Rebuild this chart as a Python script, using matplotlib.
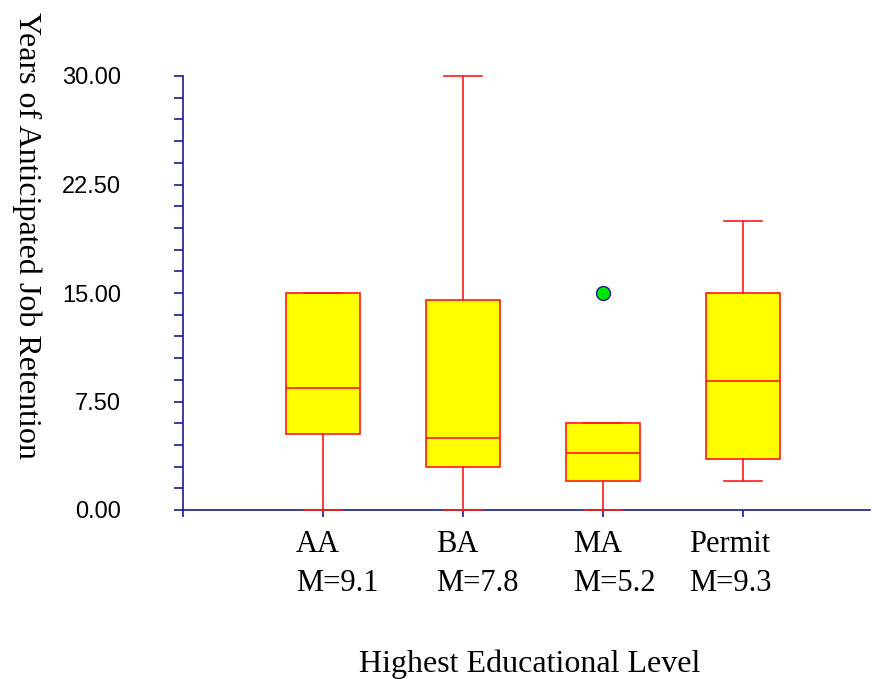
import matplotlib
matplotlib.use("Agg")
import matplotlib.pyplot as plt
from matplotlib.ticker import MultipleLocator, FormatStrFormatter
from matplotlib.transforms import blended_transform_factory, offset_copy

# Box-plot summaries per education level
categories = ["AA", "BA", "MA", "Permit"]
means = [9.1, 7.8, 5.2, 9.3]
whisker_low = [0.0, 0.0, 0.0, 2.0]
q1 = [5.25, 3.0, 2.0, 3.5]
medians = [8.4, 5.0, 3.95, 8.9]
q3 = [15.0, 14.5, 6.0, 15.0]
whisker_high = [15.0, 30.0, 6.0, 20.0]
outliers = [[], [], [15.0], []]

navy = "#1a1a8c"
red = "#ff1a1a"
W, H = 872, 679

fig = plt.figure(figsize=(W / 100, H / 100), dpi=100)
ax = fig.add_axes([183 / W, 169 / H, 687 / W, 434 / H])

stats = []
for i, c in enumerate(categories):
    stats.append(dict(label=c, whislo=whisker_low[i], q1=q1[i], med=medians[i],
                      q3=q3[i], whishi=whisker_high[i], fliers=outliers[i]))

positions = list(range(1, len(categories) + 1))
parts = ax.bxp(stats, positions=positions, widths=0.53, patch_artist=True,
               showfliers=True, zorder=3,
               boxprops=dict(facecolor="yellow", edgecolor=red, linewidth=1.2),
               medianprops=dict(color=red, linewidth=1.2),
               whiskerprops=dict(color=red, linewidth=1.2),
               capprops=dict(color=red, linewidth=1.2),
               capwidths=0.27,
               flierprops=dict(marker="o", markerfacecolor="#00e600",
                               markeredgecolor=navy, markersize=10,
                               markeredgewidth=1.0))
for group in parts.values():
    for artist in group:
        artist.set_clip_on(False)

ax.set_xlim(0, 4.91)
ax.set_ylim(0, 30)

for side in ("top", "right"):
    ax.spines[side].set_visible(False)
for side in ("left", "bottom"):
    ax.spines[side].set_color(navy)
    ax.spines[side].set_linewidth(1.2)
    ax.spines[side].set_zorder(2)

# y axis: majors every 7.5, minors every 1.5
ax.yaxis.set_major_locator(MultipleLocator(7.5))
ax.yaxis.set_minor_locator(MultipleLocator(1.5))
ax.yaxis.set_major_formatter(FormatStrFormatter("%.2f"))
ax.tick_params(axis="y", which="both", direction="out", length=6.5, width=1.2,
               color=navy, pad=38)
ax.tick_params(axis="y", which="major", labelsize=17, labelcolor="black")
for t in ax.get_yticklabels():
    t.set_fontfamily("Liberation Sans")

# x axis: ticks at each category (labels drawn separately)
ax.set_xticks(positions)
ax.set_xticks([0], minor=True)
ax.set_xticklabels([])
ax.tick_params(axis="x", which="both", direction="out", length=5, width=1.2, color=navy)

serif = "Liberation Serif"
label_offsets_px = [-27, -27, -30, -54]
trans = blended_transform_factory(ax.transData, ax.transAxes)
for pos, cat, m, off in zip(positions, categories, means, label_offsets_px):
    tr = offset_copy(trans, fig=fig, x=off, y=-20, units="dots")
    ax.text(pos, 0, f"{cat}\nM={m:.1f}", transform=tr, ha="left", va="top",
            fontsize=22, family=serif, linespacing=1.45)

fig.text(530 / W, (H - 672) / H, "Highest Educational Level", ha="center",
         va="baseline", fontsize=23, family=serif)
fig.text(27 / W, (H - 235) / H, "Years of Anticipated Job Retention", ha="center",
         va="center", rotation=270, fontsize=23, family=serif)

fig.savefig("out.png", dpi=100)
